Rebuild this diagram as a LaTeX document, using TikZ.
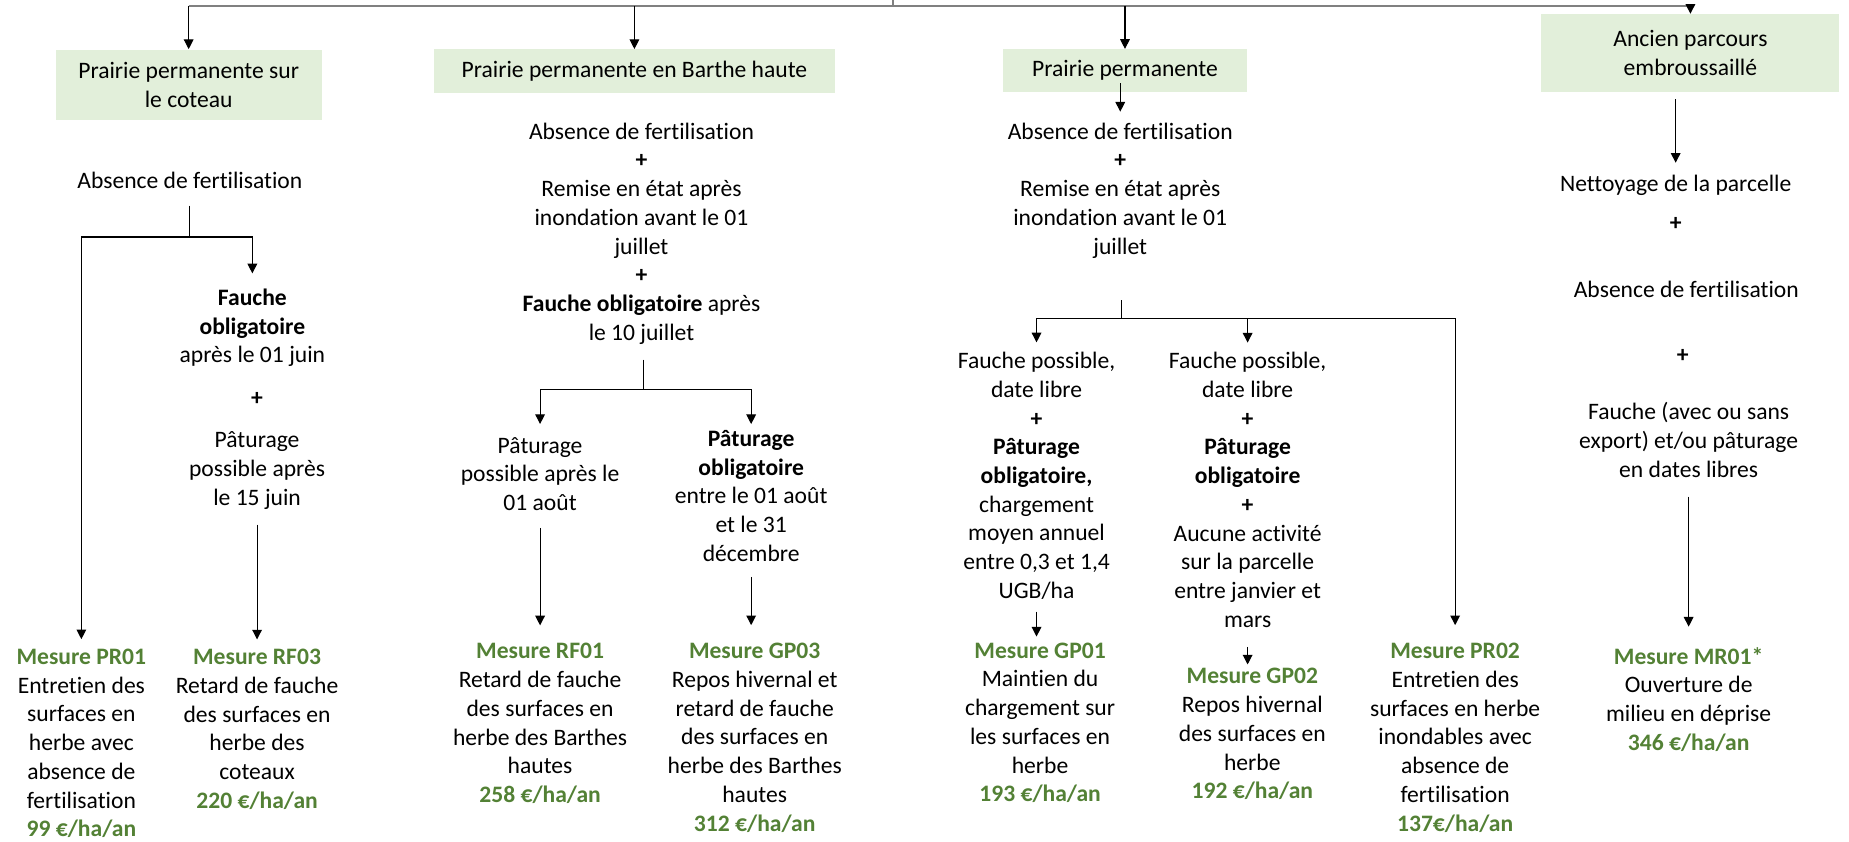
\documentclass[tikz,border=0pt]{standalone}
\usepackage{fontspec}
\setmainfont{Carlito}[Ligatures=NoCommon]
\usetikzlibrary{arrows.meta}
\definecolor{boxgreen}{HTML}{E2EFDA}
\definecolor{mesgreen}{HTML}{538135}
\newcommand{\mes}[1]{\textcolor{mesgreen}{\textbf{#1}}}

\begin{document}
\begin{tikzpicture}[x=0.55pt, y=-0.55pt, font=\fontsize{11}{13.4}\selectfont,
    cat/.style={fill=boxgreen, align=center, inner sep=0pt},
    txt/.style={align=center, inner sep=0pt},
    wire/.style={line width=0.5pt},
    link/.style={-{Triangle[length=4.5pt,width=4.5pt]}, line width=0.5pt},
    bus/.style={line width=1pt, draw=gray}]
  \useasboundingbox (0,0) rectangle (1568,714);

  \node[cat, minimum width=124pt, minimum height=33pt] (coteau) at (160,72) {Prairie permanente sur\\le coteau};
  \node[cat, minimum width=187pt, minimum height=20.4pt] (barthe) at (538,60.5) {Prairie permanente en Barthe haute};
  \node[cat, minimum width=114pt, minimum height=20pt] (perm) at (954,60) {Prairie permanente};
  \node[cat, minimum width=139pt, minimum height=36.3pt] (ancien) at (1433.5,45) {Ancien parcours\\embroussaillé};

  \coordinate (root) at (757,5);
  \draw[bus] (root) -- +(0,-5);
  \draw[bus] (coteau.north |- root) -- (ancien.north |- root);
  \foreach \n in {coteau, barthe, perm, ancien}
    \draw[link] (\n.north |- root) -- (\n.north);

  \node[txt] (abs1) at (161,153) {Absence de fertilisation};
  \coordinate (fork1) at (161,201);
  \node[txt] (fau1) at (214,278) {\textbf{Fauche}\\\textbf{obligatoire}\\après le 01 juin};
  \node[txt] (plus1) at (218,338) {\textbf{+}};
  \node[txt] (pat1) at (218,399) {Pâturage\\possible après\\le 15 juin};
  \node[txt] (pr01) at (69,630.5) {\mes{Mesure PR01}\\Entretien des\\surfaces en\\herbe avec\\absence de\\fertilisation\\\mes{99 €/ha/an}};
  \node[txt] (rf03) at (218,618.5) {\mes{Mesure RF03}\\Retard de fauche\\des surfaces en\\herbe des\\coteaux\\\mes{220 €/ha/an}};
  \draw[wire, shorten <=7.7pt] (abs1.south) -- (fork1);
  \draw[link, shorten >=4.4pt] (fork1) -| (pr01.north);
  \draw[link, shorten >=7pt] (fork1) -| (fau1.north);
  \draw[link, shorten <=7pt, shorten >=4.4pt] (pat1.south) -- (rf03.north);

  \node[txt] (abs2) at (544,198) {Absence de fertilisation\\\textbf{+}\\Remise en état après\\inondation avant le 01\\juillet\\\textbf{+}\\\textbf{Fauche obligatoire} après\\le 10 juillet};
  \coordinate (fork2) at (546,330);
  \node[txt] (pat2a) at (458,402) {Pâturage\\possible après le\\01 août};
  \node[txt] (pat2b) at (637,420.5) {\textbf{Pâturage}\\\textbf{obligatoire}\\entre le 01 août\\et le 31\\décembre};
  \node[txt] (rf01) at (458,613.5) {\mes{Mesure RF01}\\Retard de fauche\\des surfaces en\\herbe des Barthes\\hautes\\\mes{258 €/ha/an}};
  \node[txt] (gp03) at (640,625.5) {\mes{Mesure GP03}\\Repos hivernal et\\retard de fauche\\des surfaces en\\herbe des Barthes\\hautes\\\mes{312 €/ha/an}};
  \draw[wire, shorten <=7pt] (fork2 |- abs2.south) -- (fork2);
  \draw[link, shorten >=6pt] (fork2) -| (pat2a.north);
  \draw[link, shorten >=2.7pt] (fork2) -| (pat2b.north);
  \draw[link, shorten <=7.7pt, shorten >=8.2pt] (pat2a.south) -- (rf01.north);
  \draw[link, shorten <=7pt, shorten >=8.2pt] (pat2b.south) -- (pat2b.south |- gp03.north);

  \node[txt] (abs3) at (950,161.5) {Absence de fertilisation\\\textbf{+}\\Remise en état après\\inondation avant le 01\\juillet};
  \coordinate (fork3) at (951,270);
  \node[txt] (fa3a) at (879,403.5) {Fauche possible,\\date libre\\\textbf{+}\\\textbf{Pâturage}\\\textbf{obligatoire,}\\chargement\\moyen annuel\\entre 0,3 et 1,4\\UGB/ha};
  \node[txt] (fa3b) at (1058,415.5) {Fauche possible,\\date libre\\\textbf{+}\\\textbf{Pâturage}\\\textbf{obligatoire}\\\textbf{+}\\Aucune activité\\sur la parcelle\\entre janvier et\\mars};
  \node[txt] (gp01) at (882,613) {\mes{Mesure GP01}\\Maintien du\\chargement sur\\les surfaces en\\herbe\\\mes{193 €/ha/an}};
  \node[txt] (gp02) at (1062,622.5) {\mes{Mesure GP02}\\Repos hivernal\\des surfaces en\\herbe\\\mes{192 €/ha/an}};
  \node[txt] (pr02) at (1234,625.5) {\mes{Mesure PR02}\\Entretien des\\surfaces en herbe\\inondables avec\\absence de\\fertilisation\\\mes{137€/ha/an}};
  \draw[link, shorten >=5pt] (abs3.north |- perm.south) ++(0,-8) -- (abs3.north);
  \draw[wire, shorten <=19.5pt] (fork3 |- abs3.south) -- (fork3);
  \draw[link, shorten >=4.4pt] (fork3) -| (fa3a.north);
  \draw[link, shorten >=4.4pt] (fork3) -| (fa3b.north);
  \draw[link, shorten >=8.2pt] (fork3) -| (pr02.north);
  \draw[link, shorten <=5.5pt, shorten >=2.7pt] (fa3a.south) -- (fa3a.south |- gp01.north);
  \draw[link, shorten <=8.8pt, shorten >=1.6pt] (fa3b.south) -- (fa3b.south |- gp02.north);

  \node[txt] (net4) at (1421,157) {Nettoyage de la parcelle};
  \node[txt] (plus4a) at (1421,190) {\textbf{+}};
  \node[txt] (abs4) at (1430,245) {Absence de fertilisation};
  \node[txt] (plus4b) at (1427,302) {\textbf{+}};
  \node[txt] (fau4) at (1432,373) {Fauche (avec ou sans\\export) et/ou pâturage\\en dates libres};
  \node[txt] (mr01) at (1432,593) {\mes{Mesure MR01*}\\Ouverture de\\milieu en déprise\\\mes{346 €/ha/an}};
  \draw[link, shorten <=3.3pt, shorten >=5.5pt] (ancien.south -| net4) -- (net4.north);
  \draw[link, shorten <=8.8pt, shorten >=9.4pt] (fau4.south) -- (mr01.north);
\end{tikzpicture}
\end{document}
